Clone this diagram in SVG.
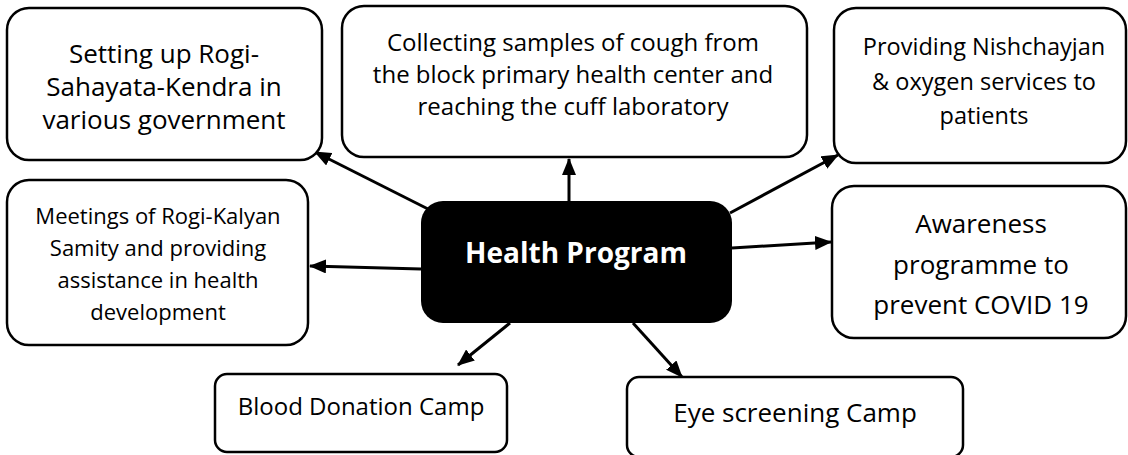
<svg xmlns="http://www.w3.org/2000/svg" width="1128" height="455" viewBox="0 0 1128 455">
<style>
.box{fill:#fff;stroke:#000;stroke-width:2.5}
.t{font-family:"Open Sans","Liberation Sans",sans-serif;fill:#000;text-anchor:middle}
.c{stroke:#000;stroke-width:3;fill:none;marker-end:url(#ah)}
</style>
<defs>
<marker id="ah" markerUnits="userSpaceOnUse" markerWidth="18" markerHeight="14" refX="16" refY="7" orient="auto">
<path d="M0,0 L17,7 L0,14 Z" fill="#000"/>
</marker>
</defs>
<rect width="1128" height="455" fill="#fff"/>
<g id="connectors">
<line class="c" x1="430" y1="210" x2="315" y2="152"/>
<line class="c" x1="569" y1="201" x2="569" y2="159"/>
<line class="c" x1="730" y1="213" x2="838" y2="155"/>
<line class="c" x1="421" y1="269" x2="310" y2="266"/>
<line class="c" x1="732" y1="248" x2="831" y2="242"/>
<line class="c" x1="510" y1="323" x2="458" y2="365"/>
<line class="c" x1="633" y1="323" x2="682" y2="377"/>
</g>
<g id="center">
<rect x="421" y="201" width="311" height="122" rx="22" fill="#000"/>
<text class="t" x="576" y="263" font-size="28" font-weight="bold" style="fill:#fff">Health Program</text>
</g>
<g id="n-sahayata">
<rect class="box" x="7" y="8" width="315" height="152" rx="22"/>
<text class="t" font-size="26"><tspan x="164" y="63">Setting up Rogi-</tspan><tspan x="164" y="96">Sahayata-Kendra in</tspan><tspan x="164" y="129">various government</tspan></text>
</g>
<g id="n-cough">
<rect class="box" x="342" y="6" width="465" height="151" rx="22"/>
<text class="t" font-size="24"><tspan x="573" y="51">Collecting samples of cough from</tspan><tspan x="573" y="83">the block primary health center and</tspan><tspan x="573" y="115">reaching the cuff laboratory</tspan></text>
</g>
<g id="n-oxygen">
<rect class="box" x="834" y="8" width="292" height="155" rx="22"/>
<text class="t" font-size="23.5"><tspan x="984" y="55">Providing Nishchayjan</tspan><tspan x="984" y="90">&amp; oxygen services to</tspan><tspan x="984" y="124">patients</tspan></text>
</g>
<g id="n-meetings">
<rect class="box" x="7" y="180" width="301" height="165" rx="22"/>
<text class="t" font-size="22"><tspan x="158" y="224">Meetings of Rogi-Kalyan</tspan><tspan x="158" y="256">Samity and providing</tspan><tspan x="158" y="288">assistance in health</tspan><tspan x="158" y="320">development</tspan></text>
</g>
<g id="n-awareness">
<rect class="box" x="832" y="186" width="294" height="152" rx="22"/>
<text class="t" font-size="26"><tspan x="981" y="233">Awareness</tspan><tspan x="981" y="274">programme to</tspan><tspan x="981" y="314">prevent COVID 19</tspan></text>
</g>
<g id="n-blood">
<rect class="box" x="215" y="374" width="292" height="78" rx="12"/>
<text class="t" font-size="24" x="361" y="415">Blood Donation Camp</text>
</g>
<g id="n-eye">
<rect class="box" x="627" y="377" width="336" height="80" rx="12"/>
<text class="t" font-size="26" x="795" y="422">Eye screening Camp</text>
</g>
</svg>
